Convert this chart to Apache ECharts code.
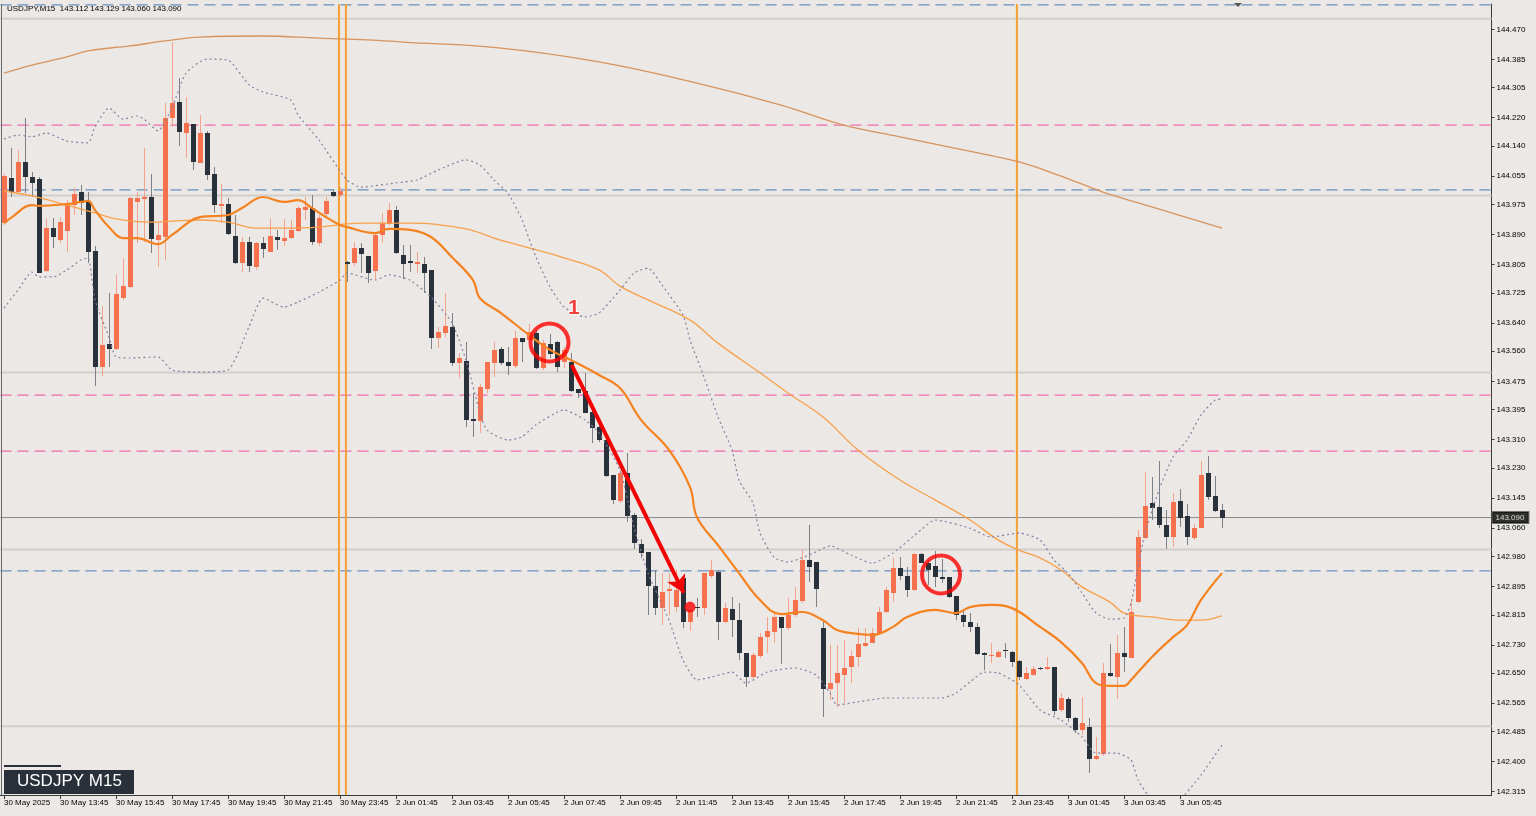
<!DOCTYPE html>
<html><head><meta charset="utf-8">
<script src="https://cdn.jsdelivr.net/npm/echarts@6/dist/echarts.min.js"></script>
<style>html,body{margin:0;padding:0;background:#ebe8e5;}#c{width:1536px;height:816px;}</style>
</head><body><div id="c"></div>
<script>
const symbolName = 'USDJPY', timeframe = 'M15';
const tickBars = [0,8,16,24,32,40,48,56,64,72,80,88,96,104,112,120,128,136,144,152,160,168];
const tickLabels = ['30 May 2025','30 May 13:45','30 May 15:45','30 May 17:45','30 May 19:45','30 May 21:45','30 May 23:45',
 '2 Jun 01:45','2 Jun 03:45','2 Jun 05:45','2 Jun 07:45','2 Jun 09:45','2 Jun 11:45','2 Jun 13:45','2 Jun 15:45','2 Jun 17:45',
 '2 Jun 19:45','2 Jun 21:45','2 Jun 23:45','3 Jun 01:45','3 Jun 03:45','3 Jun 05:45'];
const yTicks = [142.315,142.400,142.485,142.565,142.650,142.730,142.815,142.895,142.980,143.060,143.145,143.230,143.310,143.395,
 143.475,143.560,143.640,143.725,143.805,143.890,143.975,144.055,144.140,144.220,144.305,144.385,144.470];

const open = [
143.922,144.050,144.010,144.095,144.053,144.047,143.787,143.908,143.874,143.900,
143.973,144.010,143.982,143.843,143.515,143.580,143.566,143.710,143.742,143.982,
143.990,143.996,143.874,143.883,144.219,144.264,144.177,144.202,144.092,144.177,
144.061,143.971,143.976,143.886,143.809,143.869,143.798,143.866,143.841,143.883,
143.872,143.880,143.900,143.959,143.965,143.866,143.948,144.010,144.002,143.812,
143.809,143.852,143.829,143.787,143.889,143.920,143.959,143.832,143.815,143.807,
143.807,143.790,143.597,143.612,143.629,143.527,143.532,143.369,143.363,143.453,
143.527,143.566,143.530,143.518,143.597,143.592,143.612,143.513,143.580,143.586,
143.530,143.530,143.453,143.448,143.388,143.346,143.309,143.210,143.137,143.216,
143.097,143.015,142.993,142.896,142.834,142.882,142.837,142.919,142.795,142.837,
142.834,142.925,142.936,142.795,142.831,142.800,142.707,142.639,142.699,142.752,
142.766,142.809,142.778,142.815,142.854,142.970,142.964,142.778,142.605,142.622,
142.645,142.668,142.696,142.727,142.735,142.764,142.823,142.877,142.947,142.925,
142.885,142.987,142.961,142.953,142.922,142.922,142.868,142.815,142.795,142.781,
142.707,142.699,142.696,142.716,142.710,142.684,142.634,142.645,142.665,142.662,
142.668,142.546,142.577,142.523,142.489,142.498,142.407,142.422,142.651,142.639,
142.707,142.693,142.851,143.032,143.131,143.120,143.069,143.035,143.137,143.094,
143.032,143.060,143.216,143.151,143.112];
const high = [
144.061,144.134,144.129,144.219,144.067,144.053,143.937,143.937,143.939,143.987,
144.021,144.030,144.010,143.857,143.688,143.725,143.778,143.824,143.996,144.010,
144.134,144.061,143.922,144.262,144.434,144.332,144.279,144.202,144.228,144.183,
144.081,144.033,143.993,143.945,143.883,143.883,143.869,143.883,143.937,143.903,
143.934,143.931,143.971,143.996,144.002,143.945,143.996,144.016,144.024,143.815,
143.869,143.866,143.829,143.894,143.951,143.979,143.971,143.860,143.860,143.841,
143.826,143.790,143.629,143.725,143.668,143.555,143.586,143.442,143.467,143.530,
143.586,143.572,143.572,143.617,143.597,143.637,143.620,143.592,143.609,143.589,
143.572,143.555,143.453,143.499,143.400,143.357,143.309,143.210,143.224,143.272,
143.103,143.029,142.993,142.942,142.933,142.933,142.942,142.925,142.829,142.863,
142.933,142.970,142.942,142.848,142.865,142.848,142.707,142.707,142.764,142.809,
142.826,142.809,142.863,142.894,142.998,143.069,142.964,142.795,142.730,142.730,
142.744,142.716,142.778,142.778,142.778,142.837,142.894,142.976,142.978,142.950,
142.990,142.990,142.970,142.995,142.973,142.922,142.868,142.831,142.820,142.792,
142.710,142.735,142.716,142.735,142.713,142.687,142.668,142.670,142.668,142.696,
142.668,142.594,142.583,142.526,142.583,142.523,142.470,142.679,142.733,142.758,
142.781,142.854,143.055,143.219,143.205,143.250,143.111,143.159,143.171,143.128,
143.072,143.250,143.264,143.207,143.129];
const low = [
143.917,143.996,144.010,144.007,143.996,143.781,143.784,143.852,143.866,143.841,
143.945,143.945,143.809,143.462,143.490,143.515,143.564,143.705,143.739,143.866,
143.869,143.838,143.798,143.818,144.194,144.140,144.106,144.072,144.092,144.044,
143.951,143.922,143.889,143.807,143.784,143.784,143.790,143.824,143.841,143.846,
143.857,143.877,143.897,143.931,143.860,143.857,143.937,143.996,143.996,143.756,
143.801,143.781,143.753,143.761,143.866,143.917,143.835,143.764,143.784,143.781,
143.725,143.566,143.569,143.600,143.518,143.484,143.346,143.318,143.329,143.442,
143.487,143.521,143.493,143.513,143.530,143.586,143.510,143.507,143.541,143.501,
143.513,143.445,143.428,143.385,143.301,143.304,143.205,143.128,143.131,143.077,
143.001,142.976,142.815,142.815,142.786,142.815,142.823,142.778,142.769,142.809,
142.815,142.919,142.744,142.792,142.752,142.687,142.611,142.631,142.693,142.707,
142.735,142.676,142.772,142.809,142.848,142.908,142.837,142.526,142.574,142.554,
142.566,142.622,142.668,142.724,142.735,142.758,142.820,142.851,142.913,142.865,
142.882,142.961,142.899,142.894,142.905,142.863,142.800,142.781,142.766,142.701,
142.659,142.679,142.693,142.693,142.668,142.631,142.631,142.642,142.659,142.659,
142.532,142.540,142.512,142.481,142.475,142.368,142.405,142.416,142.639,142.577,
142.653,142.693,142.848,143.029,143.083,143.060,143.001,143.007,143.063,143.012,
143.027,143.060,143.140,143.106,143.060];
const close = [
144.055,144.010,144.095,144.053,144.036,143.781,143.908,143.883,143.925,143.979,
144.004,143.979,143.841,143.515,143.578,143.566,143.722,143.744,143.993,143.993,
143.996,143.877,143.889,144.219,144.262,144.180,144.205,144.095,144.177,144.058,
143.973,143.976,143.891,143.809,143.869,143.801,143.866,143.849,143.886,143.874,
143.880,143.903,143.965,143.968,143.869,143.937,143.985,143.999,144.013,143.807,
143.852,143.835,143.781,143.889,143.922,143.959,143.838,143.807,143.809,143.812,
143.781,143.597,143.614,143.631,143.527,143.541,143.366,143.363,143.459,143.530,
143.564,143.527,143.518,143.597,143.586,143.614,143.513,143.583,143.552,143.515,
143.564,143.448,143.442,143.385,143.343,143.309,143.207,143.140,143.216,143.094,
143.018,142.990,142.896,142.834,142.880,142.888,142.885,142.795,142.829,142.834,
142.933,142.942,142.795,142.834,142.800,142.707,142.639,142.701,142.752,142.769,
142.809,142.778,142.815,142.857,142.970,142.950,142.888,142.605,142.622,142.651,
142.665,142.699,142.733,142.735,142.764,142.823,142.885,142.947,142.925,142.885,
142.987,142.961,142.942,142.922,142.916,142.865,142.815,142.795,142.781,142.704,
142.701,142.701,142.710,142.713,142.682,142.639,142.651,142.662,142.662,142.668,
142.543,142.580,142.523,142.489,142.509,142.407,142.416,142.651,142.642,142.707,
142.696,142.823,143.035,143.123,143.117,143.069,143.035,143.134,143.089,143.035,
143.060,143.210,143.148,143.108,143.090];

const maFast = [[0,143.922],[1,143.937],[4,143.973],[5,143.971],[9,143.976],[11,143.982],[12,143.985],[13,143.959],[15,143.911],[17,143.880],[19,143.880],[22,143.863],[24,143.889],[28,143.939],[32,143.945],[34,143.965],[37,143.996],[40,143.982],[42,143.987],[44,143.965],[46,143.939],[48,143.917],[49,143.911],[53,143.894],[55,143.906],[58,143.903],[61,143.883],[64,143.826],[67,143.761],[68,143.710],[71,143.668],[75,143.606],[78,143.564],[81,143.535],[85,143.493],[88,143.456],[91,143.366],[95,143.281],[98,143.176],[99,143.091],[102,143.012],[105,142.933],[108,142.857],[111,142.817],[114,142.823],[117,142.800],[119,142.772],[122,142.761],[124,142.758],[127,142.781],[129,142.809],[133,142.829],[136,142.820],[138,142.837],[141,142.843],[144,142.834],[148,142.781],[151,142.738],[154,142.679],[156,142.622],[158,142.614],[160,142.614],[161,142.631],[164,142.696],[167,142.752],[169,142.786],[171,142.857],[174,142.933]];
const maSlow = [[0,144.013],[4,143.999],[9,143.973],[13,143.951],[16,143.934],[21,143.925],[24,143.928],[28,143.931],[32,143.925],[36,143.908],[40,143.908],[45,143.911],[49,143.920],[51,143.922],[58,143.922],[66,143.906],[70,143.880],[75,143.852],[80,143.824],[85,143.790],[88,143.744],[92,143.705],[98,143.648],[102,143.583],[108,143.499],[112,143.442],[117,143.374],[122,143.281],[128,143.196],[133,143.140],[138,143.083],[142,143.027],[145,142.998],[148,142.976],[151,142.942],[154,142.894],[158,142.851],[160,142.820],[164,142.809],[168,142.800],[171,142.800],[174,142.812]];
const maLong = [[0,144.346],[4,144.369],[9,144.392],[12,144.409],[18,144.423],[23,144.437],[28,144.448],[37,144.451],[45,144.445],[52,144.440],[57,144.434],[71,144.417],[85,144.378],[99,144.318],[111,144.256],[120,144.199],[128,144.166],[137,144.129],[145,144.095],[151,144.055],[157,144.010],[164,143.968],[174,143.908]];
const bbUpper = [[0,144.160],[2,144.171],[4,144.166],[6,144.177],[9,144.154],[12,144.149],[13,144.194],[15,144.248],[17,144.216],[19,144.225],[20,144.216],[22,144.183],[24,144.248],[26,144.346],[29,144.386],[32,144.383],[35,144.313],[37,144.293],[41,144.270],[42,144.228],[45,144.157],[49,144.044],[51,144.024],[56,144.036],[59,144.044],[62,144.072],[66,144.101],[68,144.086],[70,144.044],[72,144.007],[74,143.931],[76,143.826],[78,143.742],[80,143.685],[83,143.657],[85,143.668],[88,143.733],[90,143.781],[92,143.795],[94,143.747],[97,143.662],[98,143.592],[100,143.487],[102,143.374],[104,143.281],[105,143.196],[107,143.131],[108,143.046],[110,142.978],[112,142.964],[114,142.976],[116,142.993],[118,143.010],[121,142.984],[124,142.961],[127,142.990],[131,143.055],[133,143.083],[138,143.060],[141,143.035],[145,143.046],[148,143.027],[150,142.970],[152,142.933],[154,142.877],[156,142.820],[158,142.803],[160,142.806],[161,142.848],[162,142.950],[163,143.046],[165,143.168],[167,143.261],[169,143.309],[171,143.380],[173,143.422],[174,143.425]];
const bbLower = [[0,143.682],[2,143.733],[4,143.784],[5,143.770],[7,143.770],[9,143.790],[11,143.818],[12,143.824],[13,143.705],[15,143.600],[16,143.544],[18,143.541],[22,143.544],[24,143.507],[28,143.501],[32,143.507],[35,143.629],[37,143.710],[40,143.685],[42,143.699],[45,143.727],[48,143.761],[49,143.781],[53,143.761],[55,143.776],[58,143.761],[61,143.713],[64,143.640],[66,143.535],[68,143.385],[69,143.337],[72,143.309],[74,143.318],[76,143.352],[80,143.394],[83,143.366],[85,143.329],[88,143.224],[90,143.063],[92,142.933],[95,142.800],[97,142.687],[99,142.631],[101,142.639],[104,142.653],[106,142.622],[109,142.653],[113,142.665],[116,142.645],[118,142.594],[119,142.560],[122,142.569],[126,142.580],[130,142.580],[134,142.580],[136,142.594],[138,142.625],[140,142.653],[142,142.651],[145,142.617],[148,142.546],[151,142.518],[154,142.470],[156,142.424],[159,142.424],[161,142.405],[162,142.348],[164,142.292],[166,142.269],[168,142.292],[171,142.362],[174,142.447]];

const levelsBlue = [144.539, 144.016, 142.939];
const levelsPink = [144.199, 143.436, 143.278];
const levelsRound = [144.50, 144.00, 143.50, 143.00, 142.50];
const lastPrice = 143.090;
const sessionLines = [47.85, 48.85, 144.7];
const circleMarks = [[77.93, 143.585], [133.86, 142.929]];
const arrowFrom = [81.1, 143.521], arrowTo = [97.1, 142.877];
const arrowDot = [98, 142.837];
const labelOne = [81.4, 143.682];

const X_MIN = -0.5, X_MAX = 212.5, Y_MIN = 142.3058, Y_MAX = 144.5415;
const FONT = '"Liberation Sans", Arial, sans-serif';
const BG = '#ebe8e5';

const candles = open.map((o, i) => [i, o, close[i], low[i], high[i]]);

function hLine(v, color, width, type) {
  return {type:'line', data:[[X_MIN, v], [X_MAX, v]], symbol:'none', silent:true, z:1,
    lineStyle:{color, width, type}};
}
function vLine(x, color, width) {
  return {type:'line', data:[[x, Y_MIN], [x, Y_MAX]], symbol:'none', silent:true, z:1,
    lineStyle:{color, width}};
}
function indLine(data, color, width, type, smooth) {
  return {type:'line', data, symbol:'none', silent:true, z:4, smooth, clip:true,
    lineStyle:{color, width, type}};
}

const series = [];
levelsRound.forEach(v => series.push(hLine(v, '#d1cecb', 2, 'solid')));
levelsBlue.forEach(v => series.push(hLine(v, '#6a90bf', 1.2, [11, 6])));
levelsPink.forEach(v => series.push(hLine(v, '#f26aae', 1.2, [11, 6])));
series.push(hLine(lastPrice, '#8a8a8a', 1, 'solid'));
sessionLines.forEach(x => series.push(vLine(x, '#f6a033', 2)));

series.push({
  type:'custom', z:3, clip:true, data:candles,
  encode:{x:0, y:[1,2,3,4]},
  renderItem:function(params, api){
    const i = api.value(0), o = api.value(1), c = api.value(2), l = api.value(3), h = api.value(4);
    const pO = api.coord([i, o]), pC = api.coord([i, c]), pL = api.coord([i, l]), pH = api.coord([i, h]);
    const up = c > o;
    const x = Math.round(pO[0]);
    const top = Math.round(Math.min(pO[1], pC[1])), bot = Math.round(Math.max(pO[1], pC[1]));
    return {type:'group', children:[
      {type:'line', shape:{x1:x+0.5, y1:Math.round(pH[1]), x2:x+0.5, y2:Math.round(pL[1])},
        style:{stroke: up ? '#f5a18c' : '#7b8086', lineWidth:1}},
      {type:'rect', shape:{x:x-2, y:top, width:5, height:Math.max(1, bot-top)},
        style:{fill: up ? '#f7714e' : '#29313a'}}
    ]};
  }
});

series.push(indLine(maLong, '#d8935c', 1.3, 'solid', 0.4));
series.push(indLine(maSlow, '#f9a04a', 1.3, 'solid', 0.4));
series.push(indLine(bbUpper, '#857fa3', 1.2, [2, 3], 0.2));
series.push(indLine(bbLower, '#857fa3', 1.2, [2, 3], 0.2));
series.push(indLine(maFast, '#f5821f', 2.2, 'solid', 0.4));

// annotations
series.push({
  type:'scatter', z:6, silent:true, clip:false,
  data: circleMarks, symbol:'circle', symbolSize:38,
  itemStyle:{color:'rgba(0,0,0,0)', borderColor:'#ff0000', borderWidth:4},
  markLine:{silent:true, symbol:['none','arrow'], symbolSize:[15,17], animation:false,
    lineStyle:{color:'#f50000', width:4, type:'solid'}, label:{show:false},
    data:[[{coord:arrowFrom}, {coord:arrowTo}]]}
});
series.push({type:'scatter', z:6, silent:true, data:[arrowDot], symbolSize:11, itemStyle:{color:'#ff0000'}});
series.push({type:'scatter', z:6, silent:true, data:[labelOne], symbolSize:0,
  label:{show:true, position:'inside', formatter:'1', fontFamily:FONT, fontSize:21, fontWeight:'bold',
    color:'#f01010', textBorderColor:'#ffffff', textBorderWidth:2}});
series.push({type:'scatter', z:7, silent:true, clip:false, data:[[X_MAX, lastPrice]], symbolSize:0,
  label:{show:true, position:'right', distance:1, formatter:lastPrice.toFixed(3), fontFamily:FONT, fontSize:8,
    color:'#ffffff', backgroundColor:'#000000', padding:[2,4,1,3], borderColor:'#555', borderWidth:1}});

const chart = echarts.init(document.getElementById('c'), null, {renderer:'canvas'});
chart.setOption({
  animation:false,
  backgroundColor:BG,
  grid:{left:0.5, top:4, width:1491, height:791, containLabel:false},
  xAxis:{type:'value', min:X_MIN, max:X_MAX,
    axisLine:{show:true, onZero:false, lineStyle:{color:'#3a3a3a', width:1}},
    axisTick:{show:true, customValues:tickBars, length:4, lineStyle:{color:'#3a3a3a'}},
    axisLabel:{show:true, customValues:tickBars, align:'left', margin:4, fontFamily:FONT, fontSize:8, color:'#000',
      formatter:function(v){ const k = tickBars.indexOf(Math.round(v)); return k >= 0 ? tickLabels[k] : ''; }},
    splitLine:{show:false}},
  yAxis:{type:'value', position:'right', min:Y_MIN, max:Y_MAX, scale:true,
    axisLine:{show:true, onZero:false, lineStyle:{color:'#3a3a3a', width:1}},
    axisTick:{show:true, customValues:yTicks, length:3, lineStyle:{color:'#3a3a3a'}},
    axisLabel:{show:true, customValues:yTicks, margin:5, fontFamily:FONT, fontSize:8, color:'#000',
      formatter:function(v){ return v.toFixed(3); }},
    splitLine:{show:false}},
  graphic:[
    {type:'line', shape:{x1:1.5, y1:4, x2:1.5, y2:795}, style:{stroke:'#6a6a6a', lineWidth:1}, z:10},
    {type:'text', left:7, top:5, z:10, style:{
      text: symbolName + ',' + timeframe + '  ' + [open[174], high[174], low[174], close[174]].map(v => v.toFixed(3)).join(' '),
      font:'8px ' + FONT, fill:'#000'}},
    {type:'polygon', z:10, shape:{points:[[1234,3],[1242,3],[1238,7]]}, style:{fill:'#555'}},
    {type:'rect', z:10, shape:{x:4, y:765, width:57, height:2}, style:{fill:'#2a3039'}},
    {type:'rect', z:10, shape:{x:4, y:770, width:130, height:24}, style:{fill:'#2a3039'}},
    {type:'text', z:11, left:17, top:773, style:{text:symbolName + ' ' + timeframe, font:'17px ' + FONT, fill:'#ffffff'}}
  ],
  series
});
</script></body></html>
